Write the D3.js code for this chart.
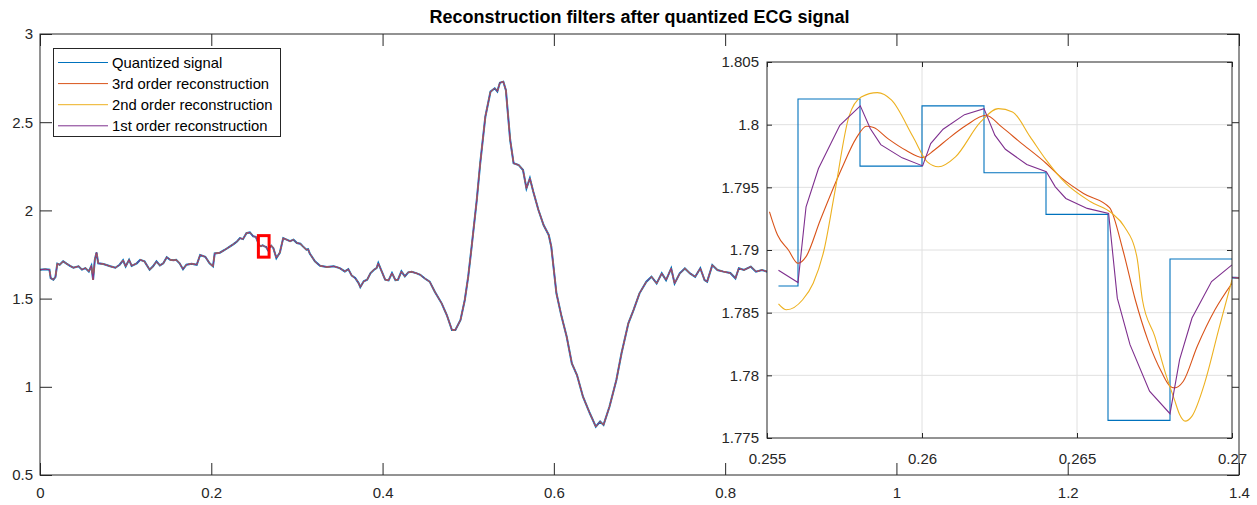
<!DOCTYPE html>
<html lang="en">
<head>
  <meta charset="UTF-8">
  <title>Reconstruction filters after quantized ECG signal</title>
  <script src="https://d3js.org/d3.v7.min.js"></script>
  <style>
    body {
      margin: 0;
      background: #fff;
      font-family: "Liberation Sans", Arial, sans-serif;
    }
    .axis text {
      font-size: 15px;
      fill: #262626;
      font-family: "Liberation Sans", Arial, sans-serif;
    }
    .axis line {
      stroke: #262626;
    }
    .axis path {
      display: none;
    }
    .grid line {
      stroke: #e0e0e0;
    }
    .legend text {
      font-size: 14.8px;
      fill: #000;
    }
  </style>
</head>
<body>
  <svg width="1257" height="505"></svg>
  <script>
    const seriesNames = ["Quantized signal", "3rd order reconstruction", "2nd order reconstruction", "1st order reconstruction"];
    const seriesColors = ["#0072BD", "#D95319", "#EDB120", "#7E2F8E"];

    // full ECG trace (main axes)
    const ecgT = [0, 0.006, 0.011, 0.0125, 0.0156, 0.018, 0.0202, 0.023, 0.027, 0.031, 0.035, 0.039, 0.045, 0.049, 0.053, 0.057,
      0.06, 0.062, 0.064, 0.066, 0.068, 0.074, 0.082, 0.088, 0.093, 0.097, 0.1, 0.104, 0.107, 0.113, 0.117, 0.122, 0.128, 0.132,
      0.136, 0.14, 0.144, 0.148, 0.152, 0.156, 0.159, 0.163, 0.167, 0.171, 0.177, 0.183, 0.187, 0.193, 0.198, 0.202, 0.204, 0.21,
      0.216, 0.222, 0.226, 0.23, 0.2335, 0.237, 0.241, 0.245, 0.249, 0.252, 0.256, 0.258, 0.26, 0.262, 0.264, 0.266, 0.268, 0.27,
      0.2725, 0.276, 0.28, 0.284, 0.288, 0.292, 0.296, 0.3, 0.304, 0.307, 0.311, 0.313, 0.315, 0.321, 0.327, 0.335, 0.343, 0.35,
      0.356, 0.36, 0.364, 0.368, 0.372, 0.374, 0.378, 0.382, 0.386, 0.39, 0.393, 0.395, 0.399, 0.403, 0.407, 0.411, 0.415, 0.418,
      0.422, 0.426, 0.43, 0.434, 0.44, 0.444, 0.449, 0.455, 0.461, 0.469, 0.475, 0.481, 0.485, 0.491, 0.496, 0.5, 0.504, 0.51,
      0.514, 0.52, 0.526, 0.531, 0.534, 0.537, 0.541, 0.544, 0.549, 0.553, 0.559, 0.564, 0.568, 0.572, 0.576, 0.582, 0.588, 0.594,
      0.597, 0.603, 0.609, 0.615, 0.621, 0.627, 0.634, 0.642, 0.649, 0.654, 0.658, 0.665, 0.673, 0.679, 0.687, 0.693, 0.7, 0.708,
      0.714, 0.72, 0.726, 0.731, 0.737, 0.741, 0.747, 0.753, 0.759, 0.765, 0.771, 0.776, 0.779, 0.785, 0.791, 0.798, 0.806, 0.812,
      0.816, 0.822, 0.83, 0.836, 0.843, 0.849, 0.856, 1.385, 1.392, 1.4];
    const ecgV = [1.664, 1.666, 1.664, 1.616, 1.607, 1.622, 1.698, 1.692, 1.711, 1.698, 1.686, 1.675, 1.683, 1.664, 1.673, 1.654,
      1.686, 1.607, 1.72, 1.762, 1.7, 1.696, 1.683, 1.675, 1.692, 1.717, 1.683, 1.72, 1.686, 1.7, 1.72, 1.711, 1.664, 1.683,
      1.711, 1.688, 1.7, 1.735, 1.72, 1.717, 1.72, 1.7, 1.667, 1.692, 1.698, 1.692, 1.747, 1.737, 1.7, 1.683, 1.756, 1.76,
      1.777, 1.796, 1.809, 1.824, 1.843, 1.837, 1.871, 1.875, 1.853, 1.85, 1.802, 1.797, 1.8015, 1.796, 1.793, 1.776, 1.789, 1.8,
      1.786, 1.73, 1.76, 1.843, 1.834, 1.825, 1.834, 1.815, 1.811, 1.796, 1.777, 1.78, 1.756, 1.711, 1.686, 1.679, 1.683, 1.673,
      1.654, 1.667, 1.63, 1.617, 1.588, 1.565, 1.598, 1.607, 1.645, 1.664, 1.673, 1.701, 1.654, 1.607, 1.603, 1.645, 1.605, 1.607,
      1.654, 1.626, 1.649, 1.652, 1.643, 1.635, 1.615, 1.596, 1.539, 1.473, 1.407, 1.322, 1.322, 1.379, 1.492, 1.624, 1.794, 2.059,
      2.267, 2.531, 2.673, 2.692, 2.675, 2.724, 2.73, 2.682, 2.399, 2.267, 2.257, 2.229, 2.125, 2.182, 2.106, 2.002, 1.917, 1.861,
      1.794, 1.53, 1.398, 1.284, 1.133, 1.067, 0.944, 0.85, 0.774, 0.803, 0.784, 0.888, 1.039, 1.19, 1.36, 1.435, 1.53, 1.596,
      1.624, 1.586, 1.643, 1.605, 1.671, 1.586, 1.643, 1.671, 1.643, 1.624, 1.672, 1.605, 1.596, 1.69, 1.662, 1.653, 1.645, 1.615,
      1.672, 1.662, 1.681, 1.653, 1.662, 1.653, 1.66, 1.625, 1.62, 1.617];

    // zoomed window (inset axes)
    const quantT = [0.25537, 0.256, 0.258, 0.26, 0.262, 0.264, 0.266, 0.268, 0.27];
    const quantV = [1.78713, 1.80205, 1.79669, 1.8015, 1.79616, 1.79284, 1.77641, 1.78928, 1.78928];
    const thirdT = [0.25508, 0.25534, 0.25569, 0.256, 0.25626, 0.25672, 0.25741, 0.25787, 0.25821, 0.25844, 0.2589, 0.25948,
      0.26002, 0.26039, 0.26085, 0.26143, 0.26206, 0.26257, 0.26315, 0.26401, 0.26452, 0.26521, 0.26605, 0.26648, 0.26688,
      0.26728, 0.26774, 0.268, 0.26814, 0.26843, 0.26888, 0.26945, 0.27];
    const thirdV = [1.79305, 1.79119, 1.79, 1.78894, 1.78947, 1.79239, 1.7965, 1.79889, 1.79987, 1.79977, 1.79889, 1.79796,
      1.79738, 1.79796, 1.79889, 1.79995, 1.80075, 1.79982, 1.79863, 1.7969, 1.79571, 1.79451, 1.79338, 1.79, 1.78603,
      1.78285, 1.7802, 1.77914, 1.779, 1.77953, 1.78232, 1.78523, 1.78735];
    const secondT = [0.25537, 0.25563, 0.25615, 0.25649, 0.25684, 0.25718, 0.25764, 0.25804, 0.25856, 0.25902, 0.25971, 0.26017,
      0.26053, 0.26108, 0.26189, 0.26246, 0.26292, 0.26349, 0.26401, 0.26464, 0.26544, 0.26613, 0.26653, 0.26693, 0.26711,
      0.26751, 0.26785, 0.26814, 0.26831, 0.26849, 0.26871, 0.26912, 0.26957, 0.27];
    const secondV = [1.78571, 1.78523, 1.78603, 1.78735, 1.79, 1.79451, 1.80062, 1.80221, 1.80256, 1.80195, 1.79903, 1.79703,
      1.79664, 1.79743, 1.80022, 1.80128, 1.80102, 1.79903, 1.79717, 1.79531, 1.79385, 1.79292, 1.79186, 1.78947, 1.78603,
      1.78311, 1.7802, 1.77808, 1.77688, 1.77635, 1.77675, 1.7794, 1.78364, 1.78762];
    const firstT = [0.25537, 0.256, 0.25626, 0.25666, 0.25735, 0.25801, 0.25833, 0.25867, 0.25936, 0.26002, 0.26028, 0.26068,
      0.26137, 0.262, 0.26235, 0.26269, 0.26338, 0.26401, 0.2643, 0.26464, 0.26533, 0.26602, 0.2663, 0.26671, 0.26734, 0.268,
      0.26831, 0.26871, 0.26934, 0.27];
    const firstV = [1.78838, 1.7874, 1.79345, 1.7965, 1.79995, 1.8015, 1.79969, 1.79841, 1.79735, 1.79671, 1.79849, 1.79964,
      1.8008, 1.80128, 1.79916, 1.79804, 1.79682, 1.79624, 1.79504, 1.79411, 1.79332, 1.79292, 1.78616, 1.78245, 1.77874, 1.77694,
      1.78126, 1.78457, 1.78748, 1.78881];

    const zoomBoxT = [0.255, 0.2675];
    const zoomBoxV = [1.735, 1.857];

    const mainXTicks = [0, 0.2, 0.4, 0.6, 0.8, 1, 1.2, 1.4];
    const mainXLabels = ["0", "0.2", "0.4", "0.6", "0.8", "1", "1.2", "1.4"];
    const mainYTicks = [0.5, 1, 1.5, 2, 2.5, 3];
    const mainYLabels = ["0.5", "1", "1.5", "2", "2.5", "3"];
    const insetXTicks = [0.255, 0.26, 0.265, 0.27];
    const insetXLabels = ["0.255", "0.26", "0.265", "0.27"];
    const insetYTicks = [1.775, 1.78, 1.785, 1.79, 1.795, 1.8, 1.805];
    const insetYLabels = ["1.775", "1.78", "1.785", "1.79", "1.795", "1.8", "1.805"];

    const svg = d3.select("svg");
    const main = { left: 40, right: 1239, top: 34, bottom: 475 };
    const ins = { left: 767, right: 1232, top: 62, bottom: 438 };

    const zip = (ts, vs) => ts.map((t, i) => [t, vs[i]]);

    // ---- main axes ----
    const x = d3.scaleLinear().domain([0, 1.4]).range([main.left, main.right]);
    const y = d3.scaleLinear().domain([0.5, 3]).range([main.bottom, main.top]);

    svg.append("g").attr("class", "axis")
      .attr("transform", `translate(0,${main.bottom})`)
      .call(d3.axisBottom(x).tickValues(mainXTicks).tickFormat((d, i) => mainXLabels[i])
        .tickSizeInner(-12).tickSizeOuter(0).tickPadding(12));
    svg.append("g").attr("class", "axis")
      .attr("transform", `translate(0,${main.top})`)
      .call(d3.axisTop(x).tickValues(mainXTicks).tickFormat("").tickSizeInner(-12).tickSizeOuter(0));
    svg.append("g").attr("class", "axis")
      .attr("transform", `translate(${main.left},0)`)
      .call(d3.axisLeft(y).tickValues(mainYTicks).tickFormat((d, i) => mainYLabels[i])
        .tickSizeInner(-12).tickSizeOuter(0).tickPadding(7));
    svg.append("g").attr("class", "axis")
      .attr("transform", `translate(${main.right},0)`)
      .call(d3.axisRight(y).tickValues(mainYTicks).tickFormat("").tickSizeInner(-12).tickSizeOuter(0));

    // at this scale the quantization steps are sub-pixel, so all four traces overlap
    const mainData = zip(ecgT, ecgV);
    const mainLine = d3.line().x(d => x(d[0])).y(d => y(d[1]));
    seriesColors.forEach((c, i) => {
      svg.append("path")
        .datum(mainData)
        .attr("fill", "none")
        .attr("stroke", c)
        .attr("stroke-width", i === 0 ? 2 : 1)
        .attr("d", mainLine);
    });

    svg.append("rect")
      .attr("x", main.left).attr("y", main.top)
      .attr("width", main.right - main.left).attr("height", main.bottom - main.top)
      .attr("fill", "none").attr("stroke", "#262626").attr("stroke-width", 1);

    svg.append("rect")
      .attr("x", x(zoomBoxT[0])).attr("y", y(zoomBoxV[1]))
      .attr("width", x(zoomBoxT[1]) - x(zoomBoxT[0]))
      .attr("height", y(zoomBoxV[0]) - y(zoomBoxV[1]))
      .attr("fill", "none").attr("stroke", "#ff0000").attr("stroke-width", 3);

    svg.append("text")
      .attr("x", (main.left + main.right) / 2).attr("y", 23)
      .attr("text-anchor", "middle")
      .style("font-size", "18px").style("font-weight", "bold").attr("fill", "#000")
      .text("Reconstruction filters after quantized ECG signal");

    // legend
    const leg = svg.append("g").attr("class", "legend");
    leg.append("rect")
      .attr("x", 53.5).attr("y", 48.5).attr("width", 227).attr("height", 88)
      .attr("fill", "#fff").attr("stroke", "#262626").attr("stroke-width", 1);
    seriesNames.forEach((name, i) => {
      const ly = 62.5 + i * 21.1;
      leg.append("line").attr("x1", 58).attr("x2", 108).attr("y1", ly).attr("y2", ly)
        .attr("stroke", seriesColors[i]).attr("stroke-width", 1);
      leg.append("text").attr("x", 112).attr("y", ly).attr("dy", "0.35em").text(name);
    });

    // ---- inset axes ----
    const xi = d3.scaleLinear().domain([0.255, 0.27]).range([ins.left, ins.right]);
    const yi = d3.scaleLinear().domain([1.775, 1.805]).range([ins.bottom, ins.top]);

    svg.append("rect")
      .attr("x", ins.left).attr("y", ins.top)
      .attr("width", ins.right - ins.left).attr("height", ins.bottom - ins.top)
      .attr("fill", "#fff");

    svg.append("defs").append("clipPath").attr("id", "insclip")
      .append("rect")
      .attr("x", ins.left).attr("y", ins.top)
      .attr("width", ins.right - ins.left).attr("height", ins.bottom - ins.top);

    const grid = svg.append("g").attr("class", "grid");
    grid.selectAll(".gx").data(insetXTicks.slice(1, -1)).enter().append("line")
      .attr("x1", d => xi(d)).attr("x2", d => xi(d)).attr("y1", ins.top).attr("y2", ins.bottom);
    grid.selectAll(".gy").data(insetYTicks.slice(1, -1)).enter().append("line")
      .attr("y1", d => yi(d)).attr("y2", d => yi(d)).attr("x1", ins.left).attr("x2", ins.right);

    svg.append("g").attr("class", "axis")
      .attr("transform", `translate(0,${ins.bottom})`)
      .call(d3.axisBottom(xi).tickValues(insetXTicks).tickFormat((d, i) => insetXLabels[i])
        .tickSizeInner(-5).tickSizeOuter(0).tickPadding(15));
    svg.append("g").attr("class", "axis")
      .attr("transform", `translate(0,${ins.top})`)
      .call(d3.axisTop(xi).tickValues(insetXTicks).tickFormat("").tickSizeInner(-5).tickSizeOuter(0));
    svg.append("g").attr("class", "axis")
      .attr("transform", `translate(${ins.left},0)`)
      .call(d3.axisLeft(yi).tickValues(insetYTicks).tickFormat((d, i) => insetYLabels[i])
        .tickSizeInner(-5).tickSizeOuter(0).tickPadding(8));
    svg.append("g").attr("class", "axis")
      .attr("transform", `translate(${ins.right},0)`)
      .call(d3.axisRight(yi).tickValues(insetYTicks).tickFormat("").tickSizeInner(-5).tickSizeOuter(0));

    const insetSeries = [
      { data: zip(quantT, quantV), curve: d3.curveStepAfter },
      { data: zip(thirdT, thirdV), curve: d3.curveMonotoneX },
      { data: zip(secondT, secondV), curve: d3.curveMonotoneX },
      { data: zip(firstT, firstV), curve: d3.curveLinear }
    ];
    const insetLine = d3.line().x(d => xi(d[0])).y(d => yi(d[1]));
    const insG = svg.append("g").attr("clip-path", "url(#insclip)");
    insetSeries.forEach((s, i) => {
      insG.append("path")
        .datum(s.data)
        .attr("fill", "none")
        .attr("stroke", seriesColors[i])
        .attr("stroke-width", 1.1)
        .attr("d", insetLine.curve(s.curve));
    });

    svg.append("rect")
      .attr("x", ins.left).attr("y", ins.top)
      .attr("width", ins.right - ins.left).attr("height", ins.bottom - ins.top)
      .attr("fill", "none").attr("stroke", "#262626").attr("stroke-width", 1);
  </script>
</body>
</html>
